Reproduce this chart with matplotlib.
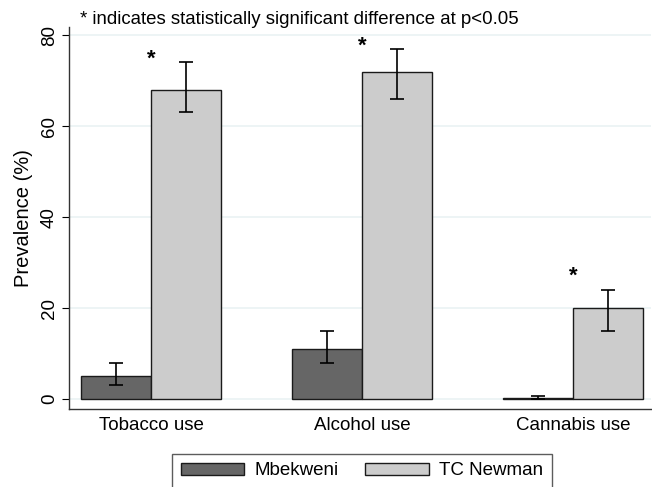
import numpy as np
import matplotlib.pyplot as plt
from matplotlib.patches import Patch

plt.rcParams['font.family'] = ['Liberation Sans', 'DejaVu Sans']

# data
categories = ["Tobacco use", "Alcohol use", "Cannabis use"]
groups = ["Mbekweni", "TC Newman"]
mbek = [5, 11, 0.3]
mbek_lo = [3, 8, 0.0]
mbek_hi = [8, 15, 0.6]
tcn = [68, 72, 20]
tcn_lo = [63, 66, 15]
tcn_hi = [74, 77, 24]
significant = [True, True, True]
star_y = [75.2, 78.2, 27.6]   # where the stars sit (centre)
note = "* indicates statistically significant difference at p<0.05"

DARK = "#666666"
LIGHT = "#cccccc"
EDGE = "#1a1a1a"

fig = plt.figure(figsize=(6.52, 4.87), dpi=100)
ax = fig.add_axes([69 / 652, 1 - 409 / 487, (651 - 69) / 652, (409 - 27) / 487])

x = np.arange(len(categories))
w = 0.332

err_m = [np.array(mbek) - np.array(mbek_lo), np.array(mbek_hi) - np.array(mbek)]
err_t = [np.array(tcn) - np.array(tcn_lo), np.array(tcn_hi) - np.array(tcn)]

ax.bar(x - w / 2, mbek, w, color=DARK, edgecolor=EDGE, linewidth=1.0, zorder=3)
ax.bar(x + w / 2, tcn, w, color=LIGHT, edgecolor=EDGE, linewidth=1.0, zorder=3)
ax.errorbar(x - w / 2, mbek, yerr=err_m, fmt='none', ecolor='black',
            elinewidth=1.2, capsize=5, capthick=1.2, zorder=4)
ax.errorbar(x + w / 2, tcn, yerr=err_t, fmt='none', ecolor='black',
            elinewidth=1.2, capsize=5, capthick=1.2, zorder=4)

# significance stars
for i, s in enumerate(significant):
    if s:
        ax.text(x[i], star_y[i] - 1.8, "*", ha='center', va='baseline',
                fontsize=16, fontweight='bold')

ax.set_xlim(-0.39, 2.37)
ax.set_ylim(-2.2, 81.8)
ax.set_yticks([0, 20, 40, 60, 80])
ax.set_xticks(x)
ax.set_xticklabels(categories, fontsize=13.5)
ax.tick_params(axis='x', length=0, pad=6)
ax.tick_params(axis='y', length=5, width=0.8, labelsize=13.5, pad=3)
for lab in ax.get_yticklabels():
    lab.set_rotation(90)
    lab.set_va('center')
ax.set_ylabel("Prevalence (%)", fontsize=14.5, labelpad=6)
ax.yaxis.grid(True, color="#eaf2f3", linewidth=1.2, zorder=0)
ax.set_axisbelow(True)
for sp in ['top', 'right']:
    ax.spines[sp].set_visible(False)
for sp in ['left', 'bottom']:
    ax.spines[sp].set_color("#333333")
    ax.spines[sp].set_linewidth(1.0)

fig.text(80 / 652, 1 - 19 / 487, note, fontsize=13.4, va='center', ha='left')

handles = [Patch(facecolor=DARK, edgecolor=EDGE, label=groups[0]),
           Patch(facecolor=LIGHT, edgecolor=EDGE, label=groups[1])]
leg = fig.legend(handles=handles, loc='upper center', ncol=2,
                 bbox_to_anchor=(362 / 652, 1 - 454 / 487), fontsize=13.5,
                 frameon=True, fancybox=False, handlelength=3.4,
                 handleheight=0.6, columnspacing=1.4, borderpad=0.45,
                 handletextpad=0.55, borderaxespad=0)
leg.get_frame().set_edgecolor("#333333")
leg.get_frame().set_linewidth(1.0)

fig.savefig("out.png", dpi=100)
